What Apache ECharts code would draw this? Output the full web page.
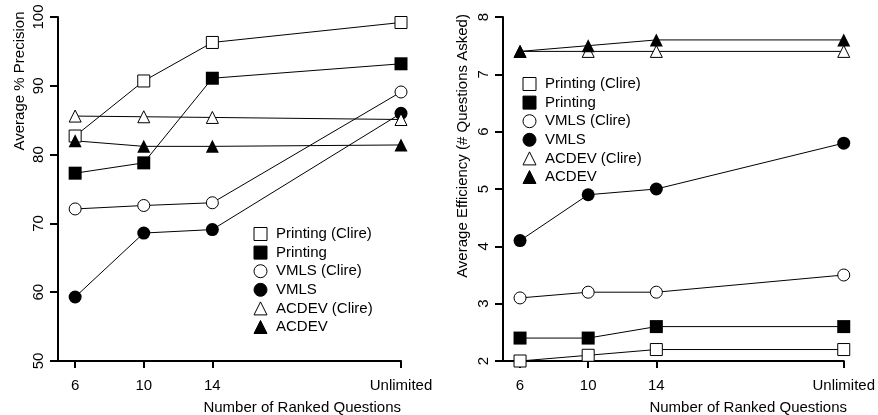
<!DOCTYPE html>
<html>
<head>
<meta charset="utf-8">
<script src="https://cdn.jsdelivr.net/npm/echarts@6/dist/echarts.min.js"></script>
<style>
html,body{margin:0;padding:0;background:#fff;}
#chart{width:878px;height:415px;}
</style>
</head>
<body>
<div id="chart"></div>
<script>
// x positions (Unlimited placed at 25)
const xValues = [6, 10, 14, 25];
const xTickLabels = ['6', '10', '14', 'Unlimited'];
const seriesNames = ['Printing (Clire)', 'Printing', 'VMLS (Clire)', 'VMLS', 'ACDEV (Clire)', 'ACDEV'];

// Left: Average % Precision
const precPrintingClire = [82.7, 90.7, 96.3, 99.2];
const precPrinting      = [77.3, 78.8, 91.1, 93.2];
const precVMLSClire     = [72.1, 72.6, 73.0, 89.1];
const precVMLS          = [59.3, 68.6, 69.1, 86.0];
const precACDEVClire    = [85.6, 85.5, 85.4, 85.1];
const precACDEV         = [82.0, 81.2, 81.2, 81.4];

// Right: Average Efficiency
const effPrintingClire = [2.0, 2.1, 2.2, 2.2];
const effPrinting      = [2.4, 2.4, 2.6, 2.6];
const effVMLSClire     = [3.1, 3.2, 3.2, 3.5];
const effVMLS          = [4.1, 4.9, 5.0, 5.8];
const effACDEVClire    = [7.4, 7.4, 7.4, 7.4];
const effACDEV         = [7.4, 7.5, 7.6, 7.6];

const FONT = 'Liberation Sans, Arial, Helvetica, sans-serif';
const FS = 15;

const styles = [
  {symbol: 'rect', open: true},
  {symbol: 'rect', open: false},
  {symbol: 'circle', open: true},
  {symbol: 'circle', open: false},
  {symbol: 'triangle', open: true},
  {symbol: 'triangle', open: false}
];

function makeSeries(arrs, idx) {
  return arrs.map((arr, i) => {
    const st = styles[i];
    return {
      name: seriesNames[i],
      type: 'line',
      xAxisIndex: idx,
      yAxisIndex: idx,
      data: arr.map((v, j) => [xValues[j], v]),
      symbol: st.symbol,
      symbolSize: st.open ? 12 : 13,
      showAllSymbol: true,
      clip: false,
      lineStyle: {color: '#000', width: 1},
      itemStyle: st.open ? {color: '#fff', borderColor: '#000', borderWidth: 1}
                         : {color: '#000', borderColor: '#000', borderWidth: 0},
      emphasis: {disabled: true},
      animation: false
    };
  });
}

function xAxis(gridIndex) {
  return {
    type: 'value', gridIndex, min: 5, max: 25,
    axisLine: {show: true, onZero: false, lineStyle: {color: '#000', width: 2}},
    axisTick: {show: true, length: 7, customValues: xValues, lineStyle: {color: '#000', width: 2}},
    axisLabel: {
      customValues: xValues, margin: 17, color: '#000', fontFamily: FONT, fontSize: FS,
      formatter: v => xTickLabels[xValues.indexOf(v)]
    },
    splitLine: {show: false}
  };
}
function yAxis(gridIndex, min, max, interval) {
  return {
    type: 'value', gridIndex, min, max, interval,
    axisLine: {show: true, lineStyle: {color: '#000', width: 2}},
    axisTick: {show: true, length: 8, lineStyle: {color: '#000', width: 2}},
    axisLabel: {rotate: 90, margin: 12, color: '#000', fontFamily: FONT, fontSize: FS},
    splitLine: {show: false}
  };
}

function legend(left, top) {
  return {
    orient: 'vertical', left, top, padding: 0,
    itemWidth: 13, itemHeight: 13, itemGap: 3.6,
    selectedMode: false,
    itemStyle: {borderWidth: 1},
    textStyle: {color: '#000', fontFamily: FONT, fontSize: FS, lineHeight: 14, padding: [0, 0, 0, 4]},
    data: seriesNames.map((n, i) => ({name: n, icon: styles[i].symbol}))
  };
}

const chart = echarts.init(document.getElementById('chart'), null, {renderer: 'canvas'});
chart.setOption({
  backgroundColor: '#fff',
  animation: false,
  grid: [
    {left: 58, top: 17, width: 343, height: 344},
    {left: 503, top: 17, width: 344, height: 344}
  ],
  xAxis: [xAxis(0), xAxis(1)],
  yAxis: [yAxis(0, 50, 100, 10), yAxis(1, 2, 8, 1)],
  legend: [legend(253.5, 226.5), legend(522.5, 76.5)],
  series: [
    ...makeSeries([precPrintingClire, precPrinting, precVMLSClire, precVMLS, precACDEVClire, precACDEV], 0),
    ...makeSeries([effPrintingClire, effPrinting, effVMLSClire, effVMLS, effACDEVClire, effACDEV], 1)
  ],
  graphic: [
    {type: 'text', x: 20, y: 81, rotation: Math.PI / 2,
     style: {text: 'Average % Precision', fill: '#000', font: FS + 'px ' + FONT, textAlign: 'center', textVerticalAlign: 'middle'}},
    {type: 'text', x: 463, y: 146, rotation: Math.PI / 2,
     style: {text: 'Average Efficiency (# Questions Asked)', fill: '#000', font: FS + 'px ' + FONT, textAlign: 'center', textVerticalAlign: 'middle'}},
    {type: 'text', x: 401, y: 408,
     style: {text: 'Number of Ranked Questions', fill: '#000', font: FS + 'px ' + FONT, textAlign: 'right', textVerticalAlign: 'middle'}},
    {type: 'text', x: 847, y: 408,
     style: {text: 'Number of Ranked Questions', fill: '#000', font: FS + 'px ' + FONT, textAlign: 'right', textVerticalAlign: 'middle'}}
  ]
});
</script>
</body>
</html>
